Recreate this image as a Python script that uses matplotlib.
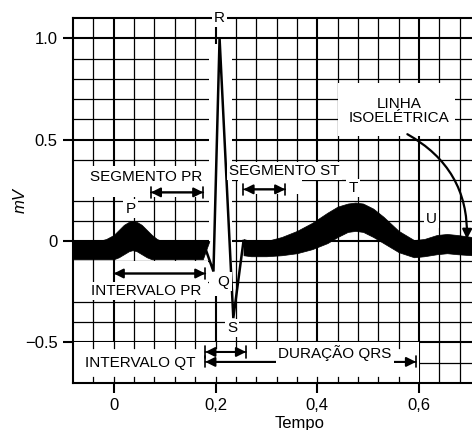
import numpy as np
import matplotlib
matplotlib.use("Agg")
import matplotlib.pyplot as plt
from matplotlib.patches import Rectangle

plt.rcParams['font.family'] = ['Liberation Sans', 'DejaVu Sans']

# ECG trace (time in s, amplitude in mV)
# P wave + PR segment: upper and lower edge of the thick pen band
t_pre = [-0.08, -0.03, -0.015, 0.0, 0.01, 0.02, 0.03, 0.037, 0.045, 0.055, 0.065, 0.075, 0.085, 0.095, 0.175, 0.188]
top_pre = [0.0, 0.0, 0.01, 0.03, 0.055, 0.08, 0.095, 0.10, 0.095, 0.08, 0.055, 0.03, 0.01, 0.0, 0.0, 0.0]
bot_pre = [-0.09, -0.09, -0.09, -0.09, -0.08, -0.065, -0.05, -0.045, -0.05, -0.065, -0.08, -0.09, -0.09, -0.09, -0.09, 0.0]

# QRS complex (thin line)
t_qrs = [0.182, 0.196, 0.208, 0.235, 0.255]
v_qrs = [-0.05, -0.15, 1.0, -0.38, 0.0]

# ST segment, T wave and U wave
t_post = [0.255, 0.27, 0.30, 0.33, 0.36, 0.39, 0.42, 0.44, 0.46, 0.475, 0.49, 0.51, 0.53, 0.56, 0.59, 0.61, 0.635, 0.655, 0.675, 0.704]
top_post = [0.01, 0.0, 0.0, 0.02, 0.05, 0.09, 0.14, 0.17, 0.185, 0.19, 0.185, 0.16, 0.12, 0.05, 0.005, 0.01, 0.03, 0.035, 0.03, 0.02]
bot_post = [-0.07, -0.075, -0.075, -0.07, -0.06, -0.04, -0.01, 0.02, 0.045, 0.05, 0.045, 0.02, -0.01, -0.055, -0.08, -0.075, -0.065, -0.06, -0.065, -0.07]

x_ticks = [0, 0.2, 0.4, 0.6]
x_labels = ['0', '0,2', '0,4', '0,6']
y_ticks = [-0.5, 0, 0.5, 1.0]
y_labels = ['\u22120.5', '0', '0.5', '1.0']

fig = plt.figure(figsize=(4.72, 4.30), dpi=100)
ax = fig.add_axes([73 / 472, 47 / 430, 399 / 472, 365 / 430])
ax.set_xlim(-0.08, 0.704)
ax.set_ylim(-0.7, 1.1)

# ECG paper grid
ax.set_xticks(x_ticks)
ax.set_xticklabels(x_labels, fontsize=12)
ax.set_yticks(y_ticks)
ax.set_yticklabels(y_labels, fontsize=12)
ax.set_xticks(np.arange(-0.04, 0.70, 0.04), minor=True)
ax.set_yticks(np.arange(-0.6, 1.1, 0.1), minor=True)
ax.grid(which='major', color='black', lw=1.5, zorder=1)
ax.grid(which='minor', color='black', lw=0.9, zorder=1)
ax.tick_params(which='major', direction='out', length=7, width=1.5, pad=4)
ax.tick_params(which='minor', length=0)
ax.spines['right'].set_visible(False)
for s in ['left', 'bottom', 'top']:
    ax.spines[s].set_linewidth(1.5)

# white areas where the grid is cut away around labels
white_boxes = [
    (-0.08, -0.7, 0.68, 0.2),    # bottom strip
    (-0.08, -0.29, 0.265, 0.19),  # intervalo PR
    (-0.08, 0.215, 0.27, 0.155),  # segmento PR
    (0.188, -0.27, 0.044, 1.24),  # around the R spike
    (0.245, 0.23, 0.125, 0.16),   # segmento ST
    (0.44, 0.52, 0.23, 0.26),     # linha isoeletrica
]
for x0, y0, w, h in white_boxes:
    ax.add_patch(Rectangle((x0, y0), w, h, facecolor='white', edgecolor='none', zorder=2))

# grid lines that still run through the PR box
for xv in [-0.04, 0.0]:
    ax.plot([xv, xv], [-0.29, -0.1], color='black', lw=1.5 if xv == 0 else 0.9, zorder=2.1)

# small ticks inside the bottom strip
for xv in np.arange(-0.04, 0.59, 0.04):
    ax.plot([xv, xv], [-0.5, -0.525], color='black', lw=0.9, zorder=2.1)
    ax.plot([xv, xv], [-0.7, -0.67], color='black', lw=0.9, zorder=2.1)

# trace
ax.fill_between(t_pre, bot_pre, top_pre, color='black', lw=0.5, zorder=4)
ax.fill_between(t_post, bot_post, top_post, color='black', lw=0.5, zorder=4)
ax.plot(t_qrs, v_qrs, color='black', lw=1.8, zorder=4, solid_joinstyle='miter')

lbl = dict(fontsize=11, ha='center', va='center', zorder=6,
           bbox=dict(facecolor='white', edgecolor='none', pad=1.5))

for txt, x, y in [('R', 0.208, 1.1), ('P', 0.033, 0.16), ('Q', 0.216, -0.2),
                  ('S', 0.233, -0.43), ('T', 0.47, 0.26), ('U', 0.625, 0.11)]:
    ax.text(x, y, txt, clip_on=False, **lbl)

ax.text(0.063, 0.315, 'SEGMENTO PR', **lbl)
ax.text(0.063, -0.245, 'INTERVALO PR', **lbl)
ax.text(0.335, 0.345, 'SEGMENTO ST', **lbl)
ax.text(0.56, 0.64, 'LINHA\nISOEL\u00c9TRICA', linespacing=1.0, **lbl)
ax.text(0.053, -0.6, 'INTERVALO QT', **lbl)
ax.text(0.435, -0.55, 'DURA\u00c7\u00c3O QRS', **lbl)


def span(x1, x2, y):
    ax.annotate('', xy=(x2, y), xytext=(x1, y), zorder=5,
                arrowprops=dict(arrowstyle='<|-|>', color='black', lw=1.5,
                                mutation_scale=14, shrinkA=0, shrinkB=0))
    ax.annotate('', xy=(x2, y), xytext=(x1, y), zorder=5,
                arrowprops=dict(arrowstyle='|-|', color='black', lw=1.2,
                                mutation_scale=4, shrinkA=0, shrinkB=0))


span(0.073, 0.176, 0.24)   # segmento PR
span(0.0, 0.18, -0.16)     # intervalo PR
span(0.255, 0.337, 0.255)  # segmento ST
span(0.18, 0.26, -0.547)   # duracao QRS
span(0.18, 0.594, -0.596)  # intervalo QT

ax.annotate('', xy=(0.694, 0.01), xytext=(0.577, 0.527), zorder=5,
            arrowprops=dict(arrowstyle='-|>', color='black', lw=1.6,
                            mutation_scale=14, shrinkA=0, shrinkB=0,
                            connectionstyle='arc3,rad=-0.3'))

ax.set_ylabel('mV', fontsize=12, style='italic')
ax.yaxis.set_label_coords(-0.113, 0.5)
ax.set_xlabel('Tempo', fontsize=12)
ax.xaxis.set_label_coords(0.569, -0.09)

fig.savefig('out.png', dpi=100)
